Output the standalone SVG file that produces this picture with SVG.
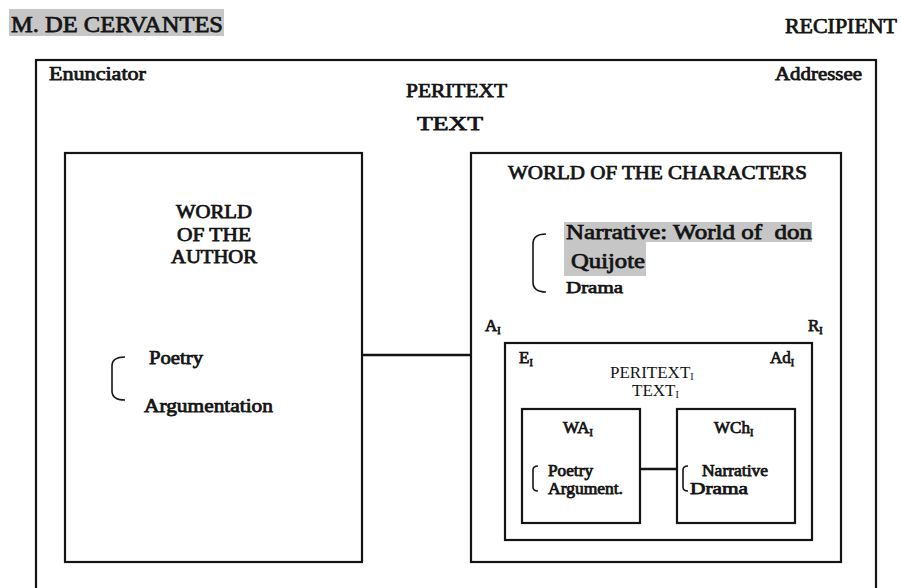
<svg xmlns="http://www.w3.org/2000/svg" width="901" height="588" viewBox="0 0 901 588">
  <style>
    text { font-family: 'Liberation Serif', 'Times New Roman', serif; fill: #141414; }
    .b { stroke: #141414; stroke-width: 0.75; paint-order: fill; }
    .box { fill: none; stroke: #141414; stroke-width: 2.2; }
    .link { stroke: #141414; stroke-width: 2.4; fill: none; }
    .brace { fill: none; stroke: #141414; stroke-width: 1.6; }
    .hl { fill: #c6c6c6; }
    .sub { font-size: 10px; }
  </style>

  <rect width="901" height="588" fill="#ffffff"/>

  <!-- sender / receiver labels -->
  <g id="sender">
    <rect class="hl" x="9" y="9" width="215" height="27"/>
    <text class="b" x="11" y="32" font-size="24" textLength="212" lengthAdjust="spacingAndGlyphs">M. DE CERVANTES</text>
  </g>
  <g id="recipient">
    <text class="b" x="785" y="33" font-size="20" textLength="112" lengthAdjust="spacingAndGlyphs">RECIPIENT</text>
  </g>

  <!-- communicative frame: enunciator to addressee -->
  <g id="frame">
    <rect class="box" x="36" y="60" width="840" height="540"/>
    <text class="b" x="49" y="80" font-size="18" textLength="97" lengthAdjust="spacingAndGlyphs">Enunciator</text>
    <text class="b" x="775" y="80" font-size="18" textLength="87" lengthAdjust="spacingAndGlyphs">Addressee</text>
    <text class="b" x="406" y="97" font-size="19" textLength="101" lengthAdjust="spacingAndGlyphs">PERITEXT</text>
    <text class="b" x="417" y="130" font-size="19" textLength="66" lengthAdjust="spacingAndGlyphs">TEXT</text>
  </g>

  <!-- world of the author -->
  <g id="world-author">
    <rect class="box" x="65" y="153" width="297" height="409"/>
    <text class="b" x="176" y="218" font-size="18" textLength="76" lengthAdjust="spacingAndGlyphs">WORLD</text>
    <text class="b" x="177" y="241" font-size="18" textLength="74" lengthAdjust="spacingAndGlyphs">OF THE</text>
    <text class="b" x="171" y="263" font-size="18" textLength="86" lengthAdjust="spacingAndGlyphs">AUTHOR</text>
    <path class="brace" d="M125 357 Q112 357 112 366 L112 391 Q112 400 125 400"/>
    <text class="b" x="149" y="364" font-size="18" textLength="54" lengthAdjust="spacingAndGlyphs">Poetry</text>
    <text class="b" x="144" y="412" font-size="18" textLength="129" lengthAdjust="spacingAndGlyphs">Argumentation</text>
  </g>

  <!-- world of the characters -->
  <g id="world-characters">
    <rect class="box" x="471" y="153" width="370" height="409"/>
    <text class="b" x="508" y="179" font-size="19" textLength="299" lengthAdjust="spacingAndGlyphs">WORLD OF THE CHARACTERS</text>
    <rect class="hl" x="564" y="222" width="248" height="20"/>
    <rect class="hl" x="564" y="241" width="82" height="35"/>
    <text class="b" x="566" y="239" font-size="21" textLength="246" lengthAdjust="spacingAndGlyphs" xml:space="preserve">Narrative: World of  don</text>
    <text class="b" x="571" y="268" font-size="21" textLength="74" lengthAdjust="spacingAndGlyphs">Quijote</text>
    <path class="brace" d="M546 234 Q533 234 533 244 L533 282 Q533 292 546 292"/>
    <text class="b" x="566" y="293" font-size="17" textLength="57" lengthAdjust="spacingAndGlyphs">Drama</text>
    <text class="b" x="485" y="331" font-size="17">A<tspan class="sub" dy="3">I</tspan></text>
    <text class="b" x="808" y="331" font-size="17">R<tspan class="sub" dy="3">I</tspan></text>
  </g>

  <!-- embedded frame -->
  <g id="inner-frame">
    <rect class="box" x="505" y="343" width="307" height="197"/>
    <text class="b" x="519" y="363" font-size="17">E<tspan class="sub" dy="3">I</tspan></text>
    <text class="b" x="770" y="363" font-size="17">Ad<tspan class="sub" dy="3">I</tspan></text>
    <text x="610" y="378" font-size="17">PERITEXT<tspan class="sub" dy="1.5">I</tspan></text>
    <text x="632" y="396" font-size="17">TEXT<tspan class="sub" dy="1.5">I</tspan></text>
  </g>

  <g id="wa-i">
    <rect class="box" x="522" y="409" width="118" height="114"/>
    <text class="b" x="563" y="433" font-size="17">WA<tspan class="sub" dy="3">I</tspan></text>
    <path class="brace" d="M538 466 Q533 466 533 470 L533 487 Q533 491 538 491"/>
    <text class="b" x="548" y="476" font-size="16" textLength="45" lengthAdjust="spacingAndGlyphs">Poetry</text>
    <text class="b" x="548" y="494" font-size="16" textLength="75" lengthAdjust="spacingAndGlyphs">Argument.</text>
  </g>

  <g id="wch-i">
    <rect class="box" x="677" y="409" width="118" height="114"/>
    <text class="b" x="714" y="433" font-size="17">WCh<tspan class="sub" dy="3">I</tspan></text>
    <path class="brace" d="M688 466 Q683 466 683 470 L683 487 Q683 491 688 491"/>
    <text class="b" x="702" y="476" font-size="16" textLength="66" lengthAdjust="spacingAndGlyphs">Narrative</text>
    <text class="b" x="690" y="494" font-size="16" textLength="58" lengthAdjust="spacingAndGlyphs">Drama</text>
  </g>

  <!-- connectors -->
  <g id="connectors">
    <line class="link" x1="362" y1="355" x2="471" y2="355"/>
    <line class="link" x1="640" y1="469" x2="677" y2="469"/>
  </g>
</svg>
